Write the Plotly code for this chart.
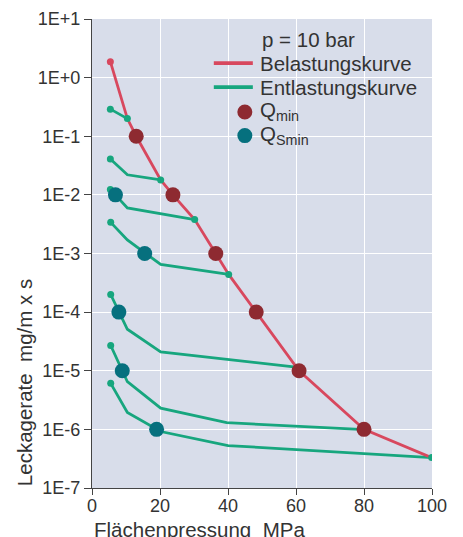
import plotly.graph_objects as go

# Belastungskurve (loading curve)
red_x = [5.4, 10.4, 13.0, 20.2, 23.8, 30.2, 36.4, 40.2, 48.3, 60.9, 80.0, 99.9]
red_y = [1.87, 0.2, 0.1, 0.018, 0.01, 3.8e-3, 1e-3, 4.4e-4, 1e-4, 1e-5, 1e-6, 3.3e-7]

# Entlastungskurven (unloading curves)
g1_x = [5.4, 10.4]
g1_y = [0.29, 0.2]
g2_x = [5.4, 10.4, 20.2]
g2_y = [0.041, 0.022, 0.018]
g3_x = [5.4, 10.4, 30.2]
g3_y = [0.0124, 6.0e-3, 3.8e-3]
g4_x = [5.5, 10.4, 20.2, 40.2]
g4_y = [3.4e-3, 1.7e-3, 6.5e-4, 4.4e-4]
g5_x = [5.5, 10.4, 20.2, 60.0]
g5_y = [2.0e-4, 5.1e-5, 2.1e-5, 1.15e-5]
g6_x = [5.5, 10.4, 20.2, 39.6, 78.8]
g6_y = [2.7e-5, 6.5e-6, 2.3e-6, 1.3e-6, 1.0e-6]
g7_x = [5.5, 10.4, 20.2, 40.0, 99.9]
g7_y = [6.1e-6, 1.94e-6, 9.2e-7, 5.3e-7, 3.3e-7]

# small dots
red_dot_x = [5.4]
red_dot_y = [1.87]
green_dot_x = [5.4, 10.4, 5.4, 20.2, 5.4, 30.2, 5.5, 40.2, 5.5, 5.5, 5.5, 99.9]
green_dot_y = [0.29, 0.2, 0.041, 0.018, 0.0124, 3.8e-3, 3.4e-3, 4.4e-4, 2.0e-4, 2.7e-5, 6.1e-6, 3.3e-7]

qmin_x = [13.0, 23.8, 36.4, 48.3, 60.9, 80.0]
qmin_y = [1e-1, 1e-2, 1e-3, 1e-4, 1e-5, 1e-6]
qsmin_x = [6.9, 15.5, 7.9, 8.9, 19.0]
qsmin_y = [1e-2, 1e-3, 1e-4, 1e-5, 1e-6]

y_tickvals = [1e-7, 1e-6, 1e-5, 1e-4, 1e-3, 1e-2, 1e-1, 1e0, 1e1]
y_ticktext = ["1E-7", "1E-6", "1E-5", "1E-4", "1E-3", "1E-2", "1E-1", "1E+0", "1E+1"]
x_tickvals = [0, 20, 40, 60, 80, 100]

legend_title = "p = 10 bar"
legend_names = ["Belastungskurve", "Entlastungskurve", "Q<sub>min</sub>", "Q<sub>Smin</sub>"]

RED = "#D8485E"
GREEN = "#17A67E"
QMIN = "#8E2A31"
QSMIN = "#06707E"
TXT = "#333333"
FONT = "Liberation Sans"

# page body has an 8px margin; compensate so the plot area sits where the reference has it
OFF = 8
W, H = 463 - OFF, 537
PL, PR, PT, PB = 92.3, 432.0, 19.0, 487.7  # plot area in page pixels


def px(x):
    return (x - PL) / (PR - PL)


def py(y):
    return (PB - y) / (PB - PT)


fig = go.Figure()

gx, gy = [], []
for xs, ys in [(g1_x, g1_y), (g2_x, g2_y), (g3_x, g3_y), (g4_x, g4_y),
               (g5_x, g5_y), (g6_x, g6_y), (g7_x, g7_y)]:
    gx += xs + [None]
    gy += ys + [None]

fig.add_trace(go.Scatter(x=gx, y=gy, mode="lines", name=legend_names[1], showlegend=False,
                         line=dict(color=GREEN, width=2.8)))
fig.add_trace(go.Scatter(x=red_x, y=red_y, mode="lines", name=legend_names[0], showlegend=False,
                         line=dict(color=RED, width=2.8)))
fig.add_trace(go.Scatter(x=red_dot_x, y=red_dot_y, mode="markers", showlegend=False,
                         marker=dict(color=RED, size=7)))
fig.add_trace(go.Scatter(x=green_dot_x, y=green_dot_y, mode="markers", showlegend=False,
                         marker=dict(color=GREEN, size=7)))
fig.add_trace(go.Scatter(x=qmin_x, y=qmin_y, mode="markers", name=legend_names[2], showlegend=False,
                         marker=dict(color=QMIN, size=15)))
fig.add_trace(go.Scatter(x=qsmin_x, y=qsmin_y, mode="markers", name=legend_names[3], showlegend=False,
                         marker=dict(color=QSMIN, size=15)))

# manual legend
LF = 20.5
leg_text_x = 260
leg_rows = [63, 87, 112, 135.5]
annotations = [
    dict(text=legend_title, xref="paper", yref="paper", x=px(leg_text_x), y=py(39),
         xanchor="left", yanchor="middle", showarrow=False, font=dict(size=LF, color=TXT)),
]
for name, yy in zip(legend_names, leg_rows):
    annotations.append(dict(text=name, xref="paper", yref="paper", x=px(leg_text_x - 2),
                            y=py(yy + (-1 if "sub" in name else 0)),
                            xanchor="left", yanchor="middle", showarrow=False,
                            font=dict(size=LF, color=TXT)))
shapes = []
for col, yy in [(RED, leg_rows[0]), (GREEN, leg_rows[1])]:
    shapes.append(dict(type="line", xref="paper", yref="paper", x0=px(214), x1=px(253),
                       y0=py(yy), y1=py(yy), line=dict(color=col, width=3.8)))
r = 7.5
for col, yy in [(QMIN, leg_rows[2]), (QSMIN, leg_rows[3])]:
    shapes.append(dict(type="circle", xref="paper", yref="paper",
                       x0=px(245 - r), x1=px(245 + r), y0=py(yy + r), y1=py(yy - r),
                       fillcolor=col, line=dict(width=0)))

annotations += [
    dict(text="Leckagerate  mg/m x s", xref="paper", yref="paper", x=px(25), y=0,
         xanchor="center", yanchor="bottom", textangle=-90, showarrow=False,
         font=dict(size=LF, color=TXT)),
    dict(text="Flächenpressung  MPa", xref="paper", yref="paper", x=0, y=py(529),
         xanchor="left", yanchor="middle", showarrow=False, font=dict(size=LF, color=TXT)),
]

fig.update_layout(
    width=W, height=H,
    margin=dict(l=PL - OFF, r=W - (PR - OFF), t=PT - OFF, b=H - (PB - OFF), autoexpand=False),
    paper_bgcolor="white",
    plot_bgcolor="#D8DDEA",
    font=dict(family=FONT, size=18, color=TXT),
    showlegend=False,
    xaxis=dict(range=[0, 100], tickvals=x_tickvals, showgrid=True, gridcolor="white",
               gridwidth=1.2, zeroline=False, showline=True, linecolor="#444444",
               linewidth=1.2, ticks="outside", ticklen=6, tickcolor="#444444",
               ticklabelstandoff=-5, tickfont=dict(size=18, color=TXT)),
    yaxis=dict(type="log", range=[-7, 1], tickvals=y_tickvals, ticktext=y_ticktext,
               showgrid=True, gridcolor="white", gridwidth=1.2, zeroline=False,
               showline=True, linecolor="#444444", linewidth=1.2, ticks="outside",
               ticklen=7, tickcolor="#444444", tickfont=dict(size=18, color=TXT)),
    annotations=annotations,
    shapes=shapes,
)

fig.write_html("out.html")
